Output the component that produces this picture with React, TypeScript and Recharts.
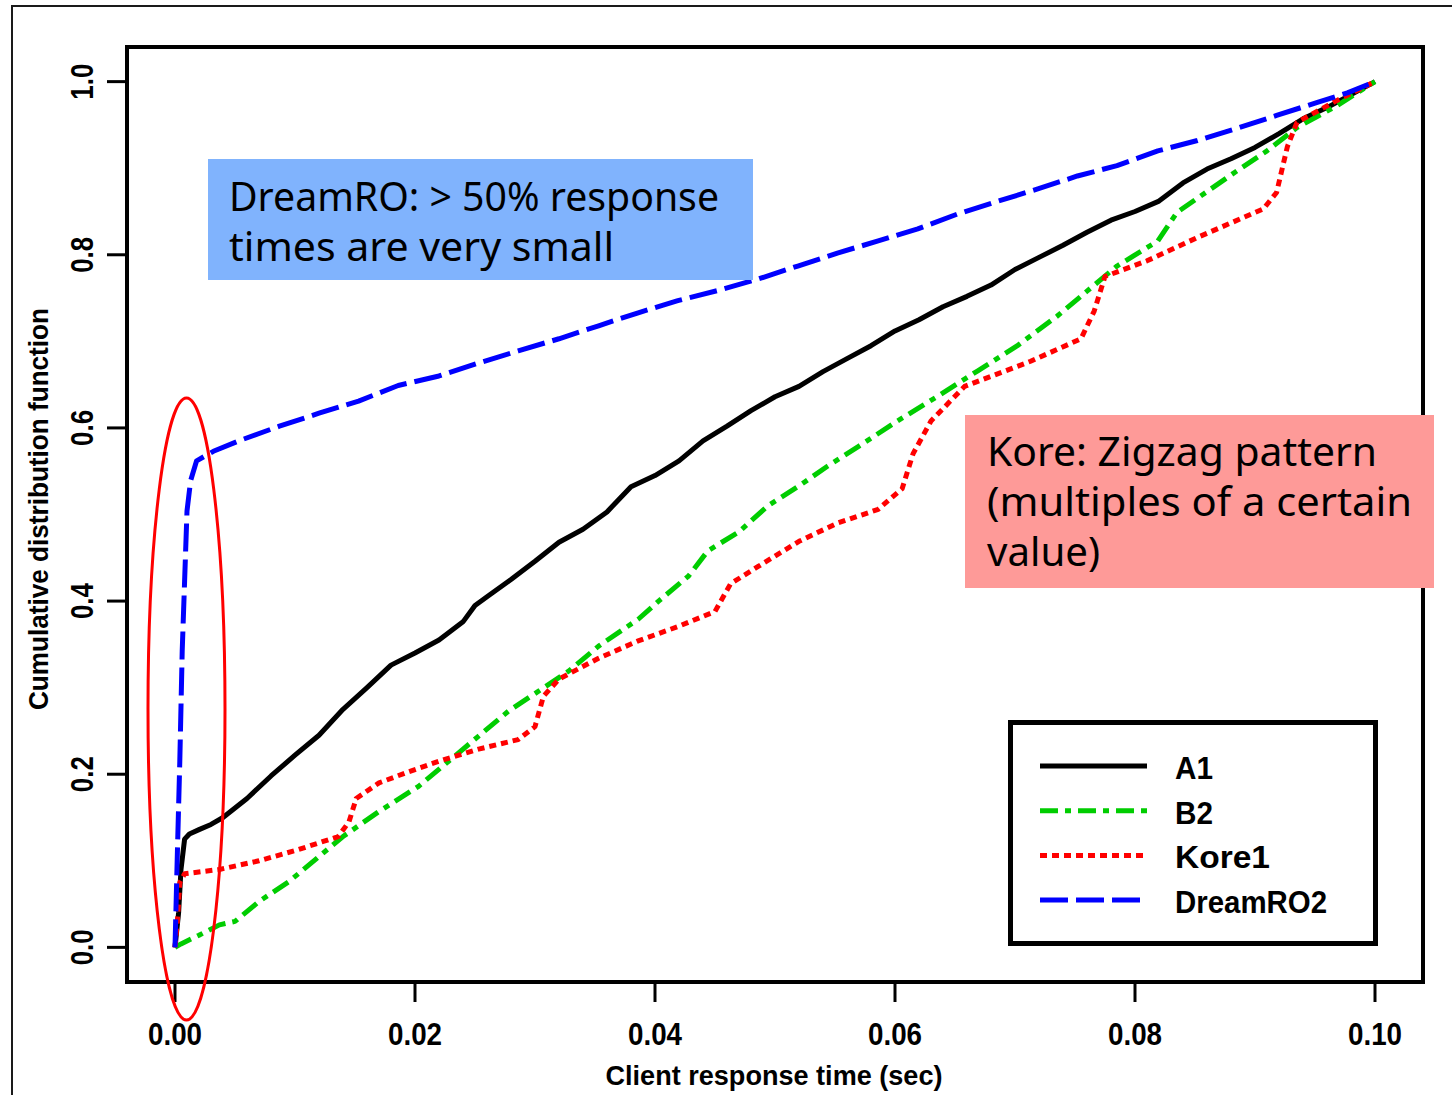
import React from "react";
import {
  LineChart,
  Line,
  XAxis,
  YAxis,
  ReferenceArea,
  Legend,
} from "recharts";

// CDF samples per server: [response time (sec), cumulative fraction]
const a1: [number, number][] = [
  [0, 0], [0.0003, 0.04], [0.0005, 0.09], [0.0008, 0.125], [0.0012, 0.131],
  [0.002, 0.136], [0.003, 0.142], [0.004, 0.15], [0.006, 0.172], [0.008, 0.198],
  [0.01, 0.222], [0.012, 0.245], [0.014, 0.275], [0.016, 0.3], [0.018, 0.326],
  [0.02, 0.34], [0.022, 0.355], [0.024, 0.376], [0.025, 0.395], [0.026, 0.405],
  [0.028, 0.425], [0.03, 0.446], [0.032, 0.468], [0.034, 0.483], [0.036, 0.503],
  [0.038, 0.532], [0.04, 0.545], [0.042, 0.562], [0.044, 0.585], [0.046, 0.602],
  [0.048, 0.62], [0.05, 0.636], [0.052, 0.648], [0.054, 0.665], [0.056, 0.68],
  [0.058, 0.695], [0.06, 0.712], [0.062, 0.725], [0.064, 0.74], [0.066, 0.752],
  [0.068, 0.765], [0.07, 0.783], [0.072, 0.797], [0.074, 0.811], [0.076, 0.826],
  [0.078, 0.84], [0.08, 0.85], [0.082, 0.862], [0.084, 0.883], [0.086, 0.899],
  [0.088, 0.911], [0.09, 0.924], [0.092, 0.94], [0.094, 0.957], [0.096, 0.97],
  [0.098, 0.985], [0.1, 1.0],
];

const b2: [number, number][] = [
  [0, 0], [0.0005, 0.004], [0.002, 0.014], [0.0037, 0.026], [0.005, 0.03],
  [0.007, 0.053], [0.0095, 0.076], [0.012, 0.105], [0.014, 0.128], [0.017, 0.157],
  [0.0203, 0.186], [0.0228, 0.215], [0.0253, 0.244], [0.0278, 0.273], [0.0303, 0.296],
  [0.0328, 0.319], [0.0353, 0.348], [0.0386, 0.379], [0.0403, 0.4], [0.0428, 0.429],
  [0.0444, 0.458], [0.047, 0.48], [0.0494, 0.51], [0.052, 0.533], [0.0544, 0.556],
  [0.057, 0.579], [0.0602, 0.608], [0.0636, 0.637], [0.0669, 0.666], [0.0702, 0.695],
  [0.0735, 0.729], [0.076, 0.758], [0.0785, 0.787], [0.0819, 0.816], [0.0835, 0.849],
  [0.086, 0.873], [0.0885, 0.897], [0.091, 0.92], [0.0935, 0.947], [0.0968, 0.972],
  [0.1, 1.0],
];

const kore1: [number, number][] = [
  [0, 0], [0.0002, 0.03], [0.0004, 0.075], [0.0008, 0.085], [0.0037, 0.09],
  [0.007, 0.1], [0.0103, 0.113], [0.0136, 0.128], [0.0145, 0.145], [0.0151, 0.172],
  [0.017, 0.19], [0.0195, 0.203], [0.022, 0.215], [0.0253, 0.229], [0.0286, 0.24],
  [0.03, 0.255], [0.0307, 0.29], [0.032, 0.31], [0.0353, 0.334], [0.0386, 0.354],
  [0.042, 0.371], [0.045, 0.388], [0.0463, 0.42], [0.0486, 0.44], [0.052, 0.469],
  [0.0552, 0.49], [0.0586, 0.506], [0.0606, 0.53], [0.0615, 0.57], [0.063, 0.608],
  [0.0658, 0.648], [0.0713, 0.677], [0.0755, 0.703], [0.0766, 0.735], [0.0775, 0.775],
  [0.081, 0.793], [0.0852, 0.82], [0.0907, 0.853], [0.0918, 0.872], [0.0927, 0.925],
  [0.0935, 0.953], [0.0968, 0.978], [0.1, 1.0],
];

const dreamRO2: [number, number][] = [
  [0, 0], [0.0002, 0.11], [0.0004, 0.215], [0.0006, 0.342], [0.0008, 0.423],
  [0.001, 0.504], [0.0013, 0.539], [0.0018, 0.562], [0.0032, 0.573], [0.0053, 0.585],
  [0.0087, 0.602], [0.012, 0.617], [0.0153, 0.631], [0.0186, 0.649], [0.022, 0.66],
  [0.0253, 0.675], [0.0286, 0.689], [0.032, 0.703], [0.0353, 0.718], [0.0386, 0.733],
  [0.0419, 0.747], [0.0453, 0.759], [0.0486, 0.772], [0.0519, 0.787], [0.0552, 0.802],
  [0.0586, 0.816], [0.0619, 0.83], [0.0652, 0.847], [0.0686, 0.862], [0.0719, 0.876],
  [0.0752, 0.891], [0.0785, 0.903], [0.0819, 0.92], [0.0852, 0.932], [0.0885, 0.946],
  [0.0918, 0.961], [0.0952, 0.976], [0.0977, 0.987], [0.1, 1.0],
];

const xTicks = [0, 0.02, 0.04, 0.06, 0.08, 0.1];
const xTickLabels = ["0.00", "0.02", "0.04", "0.06", "0.08", "0.10"];
const yTicks = [0, 0.2, 0.4, 0.6, 0.8, 1.0];
const yTickLabels = ["0.0", "0.2", "0.4", "0.6", "0.8", "1.0"];

const series = [
  { name: "A1", points: a1, color: "#000000", dash: undefined },
  { name: "B2", points: b2, color: "#00cd00", dash: "18 7 6 7" },
  { name: "Kore1", points: kore1, color: "#ff0000", dash: "7 5" },
  { name: "DreamRO2", points: dreamRO2, color: "#0000ff", dash: "28 8" },
];

// R-style padding of 4% on each side of the data range
const xDomain = [-0.004, 0.104];
const yDomain = [-0.04, 1.04];

const rFont = "'Liberation Sans Narrow', 'Liberation Sans', Arial, sans-serif";
const noteFont = "'Noto Sans', 'DejaVu Sans', sans-serif";

const XTick = (props: any) => {
  const { x, y, payload } = props;
  const idx = xTicks.indexOf(payload.value);
  return (
    <text
      x={x}
      y={y + 41}
      textAnchor="middle"
      fontFamily={rFont}
      fontWeight="bold"
      fontSize={32}
      textLength={54}
      lengthAdjust="spacingAndGlyphs"
      fill="#000"
    >
      {xTickLabels[idx] ?? payload.value}
    </text>
  );
};

const YTick = (props: any) => {
  const { y, payload } = props;
  const idx = yTicks.indexOf(payload.value);
  const bx = 93;
  return (
    <text
      x={bx}
      y={y}
      transform={`rotate(-90 ${bx} ${y})`}
      textAnchor="middle"
      fontFamily={rFont}
      fontWeight="bold"
      fontSize={32}
      textLength={36}
      lengthAdjust="spacingAndGlyphs"
      fill="#000"
    >
      {yTickLabels[idx] ?? payload.value}
    </text>
  );
};

const LegendBox = (props: any) => {
  const payload = props.payload || [];
  return (
    <svg width={370} height={226} style={{ display: "block" }}>
      <rect x={2.5} y={2.5} width={365} height={221} fill="#fff" stroke="#000" strokeWidth={5} />
      {series.map((s, i) => {
        const entry = payload.find((p: any) => p.value === s.name);
        const cy = 46 + i * 44.7;
        return (
          <g key={s.name}>
            <line
              x1={32}
              x2={139}
              y1={cy}
              y2={cy}
              stroke={entry?.color ?? s.color}
              strokeWidth={5}
              strokeDasharray={s.dash}
            />
            <text
              x={167}
              y={cy + 13}
              fontFamily={rFont}
              fontWeight="bold"
              fontSize={32}
              textLength={s.name.length * 19}
              lengthAdjust="spacingAndGlyphs"
              fill="#000"
            >
              {s.name}
            </text>
          </g>
        );
      })}
    </svg>
  );
};

const Notes = () => (
  <svg
    width={1452}
    height={1095}
    style={{ position: "absolute", left: 0, top: 0, pointerEvents: "none" }}
  >
    <rect x={208} y={159} width={545} height={121} fill="#80b3fd" />
    <text x={229} y={211} fontFamily={noteFont} fontSize={40} textLength={490} lengthAdjust="spacingAndGlyphs">
      DreamRO: &gt; 50% response
    </text>
    <text x={229} y={261} fontFamily={noteFont} fontSize={40} textLength={385} lengthAdjust="spacingAndGlyphs">
      times are very small
    </text>

    <rect x={965} y={415} width={469} height={173} fill="#fe9a98" />
    <text x={987} y={466} fontFamily={noteFont} fontSize={40} textLength={390} lengthAdjust="spacingAndGlyphs">
      Kore: Zigzag pattern
    </text>
    <text x={987} y={516} fontFamily={noteFont} fontSize={40} textLength={425} lengthAdjust="spacingAndGlyphs">
      (multiples of a certain
    </text>
    <text x={987} y={566} fontFamily={noteFont} fontSize={40} textLength={113} lengthAdjust="spacingAndGlyphs">
      value)
    </text>

    <ellipse cx={186.5} cy={709} rx={38.5} ry={311} fill="none" stroke="#ff0000" strokeWidth={3} />

    <text
      x={774}
      y={1085}
      textAnchor="middle"
      fontFamily={rFont}
      fontWeight="bold"
      fontSize={28}
      textLength={337}
      lengthAdjust="spacingAndGlyphs"
    >
      Client response time (sec)
    </text>
    <text
      x={48}
      y={509}
      transform="rotate(-90 48 509)"
      textAnchor="middle"
      fontFamily={rFont}
      fontWeight="bold"
      fontSize={28}
      textLength={402}
      lengthAdjust="spacingAndGlyphs"
    >
      Cumulative distribution function
    </text>
  </svg>
);

export default function App() {
  return (
    <div style={{ position: "absolute", left: 0, top: 0, width: 1452, height: 1095, background: "#fff" }}>
      <div
        style={{
          position: "absolute",
          left: 11,
          top: 5,
          width: 1441,
          height: 1090,
          borderLeft: "2px solid #1a1a1a",
          borderTop: "2px solid #1a1a1a",
          boxSizing: "border-box",
        }}
      />
      <div style={{ position: "absolute", left: 0, top: 0 }}>
        <LineChart width={1452} height={1095} margin={{ top: 47, right: 29, bottom: 0, left: 27 }}>
          <XAxis
            type="number"
            dataKey="t"
            domain={xDomain}
            allowDataOverflow
            ticks={xTicks}
            interval={0}
            height={113}
            axisLine={false}
            tickSize={20}
            tickLine={{ stroke: "#000", strokeWidth: 3 }}
            tick={<XTick />}
          />
          <YAxis
            type="number"
            dataKey="v"
            domain={yDomain}
            allowDataOverflow
            ticks={yTicks}
            interval={0}
            width={100}
            axisLine={false}
            tickSize={20}
            tickLine={{ stroke: "#000", strokeWidth: 3 }}
            tick={<YTick />}
          />
          <ReferenceArea
            x1={xDomain[0]}
            x2={xDomain[1]}
            y1={yDomain[0]}
            y2={yDomain[1]}
            fill="none"
            fillOpacity={0}
            stroke="#000"
            strokeWidth={4}
            ifOverflow="visible"
          />
          {series.map((s) => (
            <Line
              key={s.name}
              name={s.name}
              data={s.points.map(([t, v]) => ({ t, v }))}
              dataKey="v"
              type="linear"
              stroke={s.color}
              strokeWidth={5}
              strokeDasharray={s.dash}
              strokeLinejoin="round"
              dot={false}
              activeDot={false}
              isAnimationActive={false}
            />
          ))}
          <Legend
            layout="horizontal"
            verticalAlign="middle"
            align="center"
            content={<LegendBox />}
            wrapperStyle={{ left: 1008, top: 720, width: 370, height: 226 }}
          />
        </LineChart>
      </div>
      <Notes />
    </div>
  );
}
